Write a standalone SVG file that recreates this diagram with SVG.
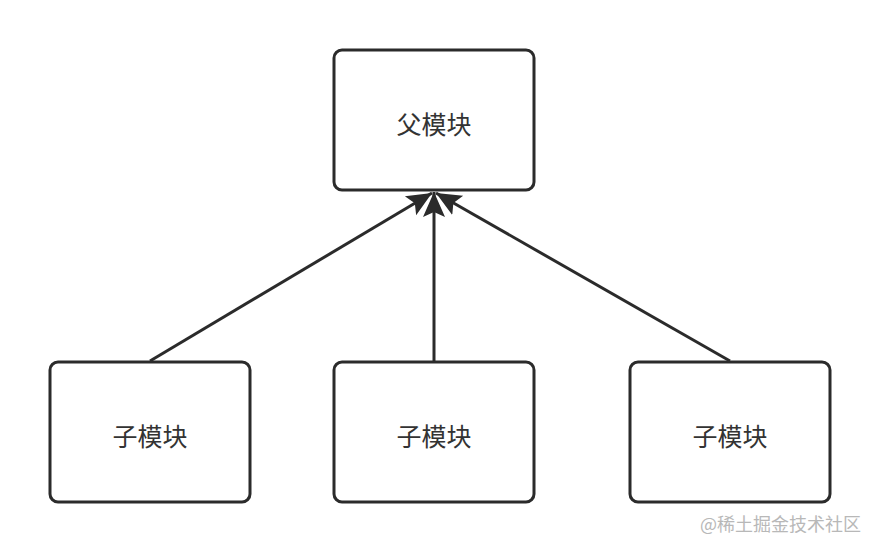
<svg xmlns="http://www.w3.org/2000/svg" width="880" height="552" viewBox="0 0 880 552">
<style>
.box{fill:#fff;stroke:#2b2b2b;stroke-width:3}
.lbl{font-family:"Noto Sans CJK SC","Liberation Sans",sans-serif;font-size:25px;fill:#333;text-anchor:middle;dominant-baseline:central}
.edge{stroke:#2b2b2b;stroke-width:3;fill:none}
.wm{font-family:"Noto Sans CJK SC","Liberation Sans",sans-serif;font-size:18px;fill:#b8b8b8}
</style>
<defs>
<marker id="arr" markerUnits="userSpaceOnUse" markerWidth="28" markerHeight="28" viewBox="0 0 28 28" refX="25" refY="14" orient="auto">
<path d="M0,3 L25,14 L0,25 L5,14 Z" fill="#2b2b2b"/>
</marker>
</defs>
<rect width="880" height="552" fill="#fff"/>
<g id="connectors">
<line class="edge" x1="150" y1="361" x2="432" y2="193" marker-end="url(#arr)"/>
<line class="edge" x1="434" y1="361" x2="434" y2="192" marker-end="url(#arr)"/>
<line class="edge" x1="730" y1="361" x2="436" y2="193" marker-end="url(#arr)"/>
</g>
<g id="parent">
<rect class="box" x="334" y="50" width="200" height="140" rx="8"/>
<text class="lbl" x="434" y="123">父模块</text>
</g>
<g id="child1">
<rect class="box" x="50" y="362" width="200" height="140" rx="8"/>
<text class="lbl" x="150" y="435">子模块</text>
</g>
<g id="child2">
<rect class="box" x="334" y="362" width="200" height="140" rx="8"/>
<text class="lbl" x="434" y="435">子模块</text>
</g>
<g id="child3">
<rect class="box" x="630" y="362" width="200" height="140" rx="8"/>
<text class="lbl" x="730" y="435">子模块</text>
</g>
<text class="wm" x="700" y="531">@稀土掘金技术社区</text>
</svg>
